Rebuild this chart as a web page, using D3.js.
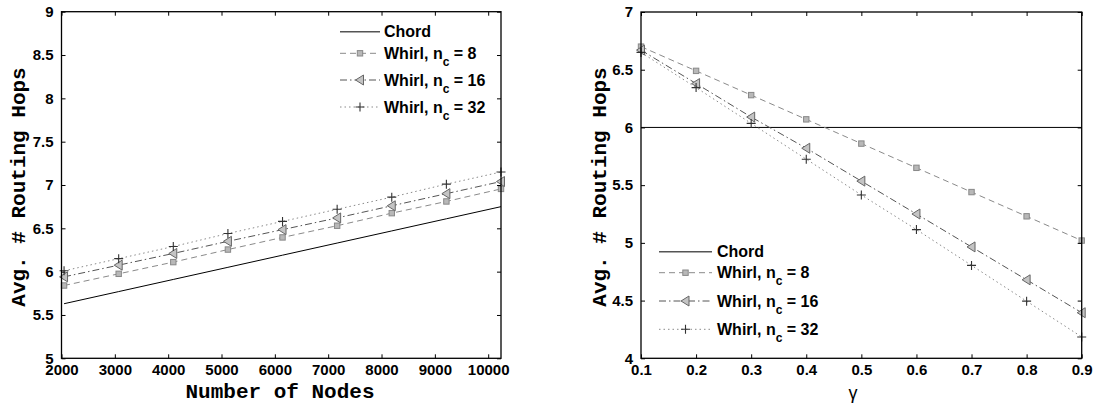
<!DOCTYPE html>
<html><head><meta charset="utf-8">
<script src="https://cdn.jsdelivr.net/npm/d3@7"></script>
<style>
body{margin:0;background:#fff;}
svg{display:block;}
.tick text{font-family:"Liberation Sans",Arial,sans-serif;font-weight:bold;font-size:15px;fill:#000;}
</style></head><body>
<svg id="chart" width="1097" height="403"></svg>
<script>
// ---- Data ----
const nodes = [2048, 3072, 4096, 5120, 6144, 7168, 8192, 9216, 10240];
const chordNodes = [5.63, 5.77, 5.91, 6.05, 6.19, 6.33, 6.47, 6.61, 6.75];
const whirl8Nodes = [5.84, 5.975, 6.11, 6.255, 6.395, 6.53, 6.675, 6.81, 6.955];
const whirl16Nodes = [5.94, 6.075, 6.21, 6.35, 6.485, 6.62, 6.76, 6.9, 7.04];
const whirl32Nodes = [6.01, 6.15, 6.29, 6.44, 6.58, 6.72, 6.86, 7.01, 7.15];

const gammas = [0.1, 0.2, 0.3, 0.4, 0.5, 0.6, 0.7, 0.8, 0.9];
const chordGamma = [6, 6, 6, 6, 6, 6, 6, 6, 6];
const whirl8Gamma = [6.7, 6.49, 6.28, 6.07, 5.86, 5.65, 5.44, 5.23, 5.02];
const whirl16Gamma = [6.67, 6.38, 6.09, 5.82, 5.535, 5.25, 4.965, 4.68, 4.395];
const whirl32Gamma = [6.65, 6.345, 6.035, 5.725, 5.415, 5.115, 4.805, 4.495, 4.185];

const leftXTicks = [2000, 3000, 4000, 5000, 6000, 7000, 8000, 9000, 10000];
const leftYTicks = [5, 5.5, 6, 6.5, 7, 7.5, 8, 8.5, 9];
const rightXTicks = [0.1, 0.2, 0.3, 0.4, 0.5, 0.6, 0.7, 0.8, 0.9];
const rightYTicks = [4, 4.5, 5, 5.5, 6, 6.5, 7];

const seriesNames = ["Chord", "Whirl, n", "Whirl, n", "Whirl, n"];
const seriesSuffix = ["", " = 8", " = 16", " = 32"];

// ---- Styles ----
const styles = [
  {stroke:"#000", dash:null, marker:null, width:1},
  {stroke:"#8a8a8a", dash:"6,4", marker:"square", width:1},
  {stroke:"#555", dash:"7,3,1.5,3", marker:"tri", width:1},
  {stroke:"#8a8a8a", dash:"1.5,3", marker:"plus", width:1}
];

const svg = d3.select("#chart");

function drawMarker(g, type, x, y){
  if(type==="square"){
    g.append("rect").attr("x",x-2.7).attr("y",y-2.7).attr("width",5.4).attr("height",5.4)
     .attr("fill","#b8b8b8").attr("stroke","#888").attr("stroke-width",1);
  } else if(type==="tri"){
    g.append("path").attr("d",`M${x-4.5},${y} L${x+3.5},${y-5} L${x+3.5},${y+5} Z`)
     .attr("fill","#c4c4c4").attr("stroke","#666").attr("stroke-width",1);
  } else if(type==="plus"){
    g.append("path").attr("d",`M${x-4.5},${y} H${x+4.5} M${x},${y-4.5} V${y+4.5}`)
     .attr("fill","none").attr("stroke","#333").attr("stroke-width",1.1);
  }
}

function panel(opts){
  const {x0,x1,y0,y1,xDomain,yDomain,xTicks,yTicks,xFmt,xs,ys,chordFull,legend} = opts;
  const x = d3.scaleLinear().domain(xDomain).range([x0,x1]);
  const y = d3.scaleLinear().domain(yDomain).range([y1,y0]);
  const g = svg.append("g");

  // series
  ys.forEach((vals,i)=>{
    const st = styles[i];
    const line = d3.line().x((d,j)=>x(xs[j])).y(d=>y(d));
    let path;
    if(i===0 && chordFull){
      path = g.append("line").attr("x1",x0).attr("x2",x1).attr("y1",y(vals[0])).attr("y2",y(vals[0]));
    } else {
      path = g.append("path").datum(vals).attr("d",line).attr("fill","none");
    }
    path.attr("stroke",st.stroke).attr("stroke-width",st.width);
    if(st.dash) path.attr("stroke-dasharray",st.dash);
    if(st.marker){
      vals.forEach((v,j)=>drawMarker(g, st.marker, x(xs[j]), y(v)));
    }
  });

  // axes box
  const ax = svg.append("g");
  const bottom = ax.append("g").attr("transform",`translate(0,${y1})`)
    .call(d3.axisBottom(x).tickValues(xTicks).tickSizeInner(-4).tickSizeOuter(0).tickPadding(8).tickFormat(xFmt));
  const top = ax.append("g").attr("transform",`translate(0,${y0})`)
    .call(d3.axisTop(x).tickValues(xTicks).tickSizeInner(-4).tickSizeOuter(0).tickFormat(""));
  const left = ax.append("g").attr("transform",`translate(${x0},0)`)
    .call(d3.axisLeft(y).tickValues(yTicks).tickSizeInner(-4).tickSizeOuter(0).tickPadding(8).tickFormat(d3.format("")));
  const right = ax.append("g").attr("transform",`translate(${x1},0)`)
    .call(d3.axisRight(y).tickValues(yTicks).tickSizeInner(-4).tickSizeOuter(0).tickFormat(""));
  [bottom,top,left,right].forEach(a=>{
    a.select(".domain").remove();
    a.selectAll(".tick line").attr("stroke","#000").attr("stroke-width",1);
  });
  bottom.selectAll(".tick text").attr("dy","0.55em");
  ax.append("rect").attr("x",x0).attr("y",y0).attr("width",x1-x0).attr("height",y1-y0)
    .attr("fill","none").attr("stroke","#000").attr("stroke-width",1.3);

  // legend
  const lg = svg.append("g");
  legend.rows.forEach((ry,i)=>{
    const st = styles[i];
    const l = lg.append("line").attr("x1",legend.lx0).attr("x2",legend.lx1).attr("y1",ry).attr("y2",ry)
      .attr("stroke",i===0?"#555":st.stroke).attr("stroke-width",i===0?1.5:1);
    if(st.dash) l.attr("stroke-dasharray",st.dash);
    if(st.marker) drawMarker(lg, st.marker, (legend.lx0+legend.lx1)/2, ry);
    const t = lg.append("text").attr("x",legend.tx).attr("y",ry+5.5)
      .attr("font-family","'Liberation Sans',Arial,sans-serif").attr("font-weight","bold").attr("font-size","16px");
    t.append("tspan").text(seriesNames[i]);
    if(i>0){
      t.append("tspan").attr("font-size","12px").attr("dy","7").text("c");
      t.append("tspan").attr("dy","-7").text(seriesSuffix[i]);
    }
  });
  return {x,y};
}

panel({
  x0:61.5, x1:501, y0:11.7, y1:358.3,
  xDomain:[2000,10240], yDomain:[5,9],
  xTicks:leftXTicks, yTicks:leftYTicks, xFmt:d3.format(""),
  xs:nodes, ys:[chordNodes, whirl8Nodes, whirl16Nodes, whirl32Nodes], chordFull:false,
  legend:{lx0:340, lx1:380, tx:384, rows:[31.7, 53.3, 80, 107]}
});

panel({
  x0:641, x1:1081.7, y0:12, y1:358.3,
  xDomain:[0.1,0.9], yDomain:[4,7],
  xTicks:rightXTicks, yTicks:rightYTicks, xFmt:d3.format(".1f"),
  xs:gammas, ys:[chordGamma, whirl8Gamma, whirl16Gamma, whirl32Gamma], chordFull:true,
  legend:{lx0:659, lx1:712, tx:717, rows:[251.7, 272.7, 301, 329.3]}
});

// axis titles
const mono = "'Liberation Mono','Courier New',monospace";
svg.append("text").attr("x",280).attr("y",398).attr("text-anchor","middle")
  .attr("font-family",mono).attr("font-weight","bold").attr("font-size","21px").text("Number of Nodes");
svg.append("text").attr("transform","translate(25,187) rotate(-90)").attr("text-anchor","middle")
  .attr("font-family",mono).attr("font-weight","bold").attr("font-size","21px").text("Avg. # Routing Hops");
svg.append("text").attr("transform","translate(606,187) rotate(-90)").attr("text-anchor","middle")
  .attr("font-family",mono).attr("font-weight","bold").attr("font-size","21px").text("Avg. # Routing Hops");
svg.append("text").attr("x",853).attr("y",399).attr("text-anchor","middle")
  .attr("font-family","'Liberation Sans',Arial,sans-serif").attr("font-size","18px").text("γ");
</script>
</body></html>
